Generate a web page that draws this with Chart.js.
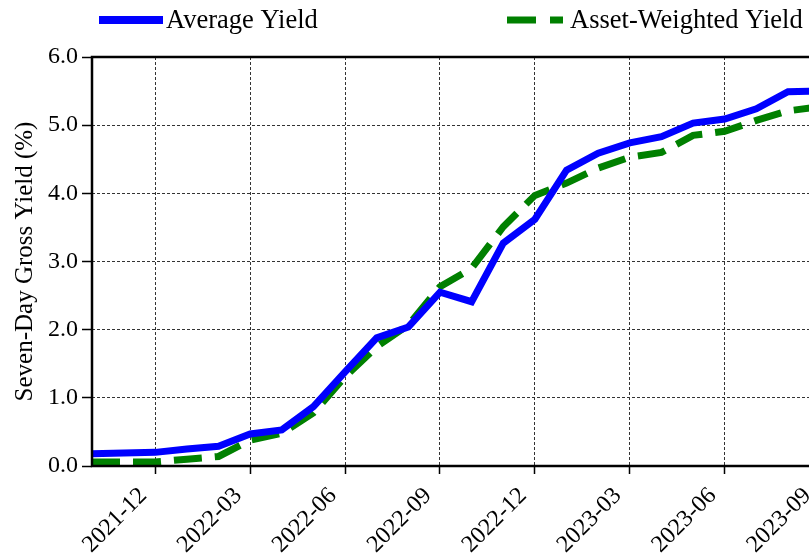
<!DOCTYPE html>
<html>
<head>
<meta charset="utf-8">
<script src="https://cdn.jsdelivr.net/npm/chart.js@4.4.0/dist/chart.umd.min.js"></script>
<style>
  html, body { margin: 0; padding: 0; background: #fff; overflow: hidden; }
  #wrap { width: 848px; height: 560px; }
</style>
</head>
<body>
<div id="wrap"><canvas id="yieldChart"></canvas></div>
<script>
const months = ['2021-10', '2021-11', '2021-12', '2022-01', '2022-02', '2022-03',
  '2022-04', '2022-05', '2022-06', '2022-07', '2022-08', '2022-09',
  '2022-10', '2022-11', '2022-12', '2023-01', '2023-02', '2023-03',
  '2023-04', '2023-05', '2023-06', '2023-07', '2023-08', '2023-09'];
const averageYield = [0.18, 0.19, 0.20, 0.25, 0.29, 0.47, 0.53, 0.87, 1.38, 1.88, 2.04, 2.55,
  2.41, 3.27, 3.62, 4.34, 4.59, 4.74, 4.83, 5.03, 5.09, 5.24, 5.49, 5.50];
const assetWeightedYield = [0.06, 0.06, 0.06, 0.10, 0.14, 0.38, 0.48, 0.78, 1.31, 1.75, 2.07, 2.63,
  2.90, 3.51, 3.97, 4.15, 4.37, 4.53, 4.60, 4.85, 4.91, 5.07, 5.21, 5.27];
const tickMonths = ['2021-12', '2022-03', '2022-06', '2022-09', '2022-12', '2023-03', '2023-06', '2023-09'];
const yTicks = [0, 1, 2, 3, 4, 5, 6];

const FONT = "'Liberation Serif', 'Times New Roman', serif";

// frame around the plot area (all four spines) drawn on top of the lines
const framePlugin = {
    id: 'frame',
    afterDatasetsDraw(chart) {
        const { ctx, chartArea: a } = chart;
        ctx.save();
        ctx.strokeStyle = '#000';
        ctx.lineWidth = 2.5;
        ctx.setLineDash([]);
        ctx.strokeRect(a.left, a.top, a.right - a.left, a.bottom - a.top);
        ctx.restore();
    }
};

// legend laid out like the original: one item left, one item right
const legendPlugin = {
    id: 'splitLegend',
    afterDraw(chart) {
        const { ctx, chartArea: a } = chart;
        const y = 20;
        ctx.save();
        ctx.font = '26.5px ' + FONT;
        ctx.fillStyle = '#000';
        ctx.textBaseline = 'middle';
        ctx.lineCap = 'butt';

        // Average Yield
        ctx.strokeStyle = '#0000ff';
        ctx.lineWidth = 8;
        ctx.beginPath();
        ctx.moveTo(a.left + 7, y);
        ctx.lineTo(a.left + 71, y);
        ctx.stroke();
        ctx.fillText(chart.data.datasets[0].label, a.left + 74, y + 1);

        // Asset-Weighted Yield
        const label2 = chart.data.datasets[1].label;
        const tx = 570;
        ctx.strokeStyle = '#008000';
        ctx.lineWidth = 7;
        ctx.setLineDash([29, 14]);
        ctx.beginPath();
        ctx.moveTo(tx - 63, y);
        ctx.lineTo(tx - 7, y);
        ctx.stroke();
        ctx.setLineDash([]);
        ctx.fillText(label2, tx, y + 1);
        ctx.restore();
    }
};

function initChart() {
    const ctx = document.getElementById('yieldChart').getContext('2d');
    new Chart(ctx, {
        type: 'line',
        data: {
            datasets: [{
                label: 'Average Yield',
                data: averageYield.map((v, i) => ({ x: i, y: v })),
                borderColor: '#0000ff',
                borderWidth: 7,
                pointRadius: 0,
                tension: 0,
                fill: false
            }, {
                label: 'Asset-Weighted Yield',
                data: assetWeightedYield.map((v, i) => ({ x: i, y: v })),
                borderColor: '#008000',
                borderWidth: 7,
                borderDash: [28, 13],
                borderCapStyle: 'butt',
                pointRadius: 0,
                tension: 0,
                fill: false
            }]
        },
        options: {
            responsive: true,
            maintainAspectRatio: false,
            animation: false,
            layout: { padding: { top: 57, right: 15, left: 0, bottom: 0 } },
            plugins: {
                legend: { display: false },
                tooltip: { enabled: false }
            },
            scales: {
                x: {
                    type: 'linear',
                    min: 0,
                    max: months.length - 1,
                    afterBuildTicks: scale => {
                        scale.ticks = tickMonths.map(m => ({ value: months.indexOf(m) }));
                    },
                    afterFit: scale => { scale.height = 94; },
                    ticks: {
                        callback: v => months[v],
                        minRotation: 45,
                        maxRotation: 45,
                        autoSkip: false,
                        color: '#000',
                        padding: 8,
                        labelOffset: -12,
                        font: { family: FONT, size: 24 }
                    },
                    grid: {
                        color: '#333',
                        lineWidth: 1,
                        tickLength: 8,
                        tickColor: '#000',
                        tickWidth: 1.5,
                        tickBorderDash: [1, 0]
                    },
                    border: { display: false, dash: [3, 2] }
                },
                y: {
                    min: 0,
                    max: 6,
                    afterBuildTicks: scale => {
                        scale.ticks = yTicks.map(v => ({ value: v }));
                    },
                    afterFit: scale => { scale.width = 92; },
                    ticks: {
                        callback: v => v.toFixed(1),
                        color: '#000',
                        padding: 4,
                        font: { family: FONT, size: 24 }
                    },
                    title: {
                        display: true,
                        text: 'Seven-Day Gross Yield (%)',
                        color: '#000',
                        padding: { top: 10, bottom: 0 },
                        font: { family: FONT, size: 25 }
                    },
                    grid: {
                        color: '#333',
                        lineWidth: 1,
                        tickLength: 10,
                        tickColor: '#000',
                        tickWidth: 1.5,
                        tickBorderDash: [1, 0]
                    },
                    border: { display: false, dash: [3, 2] }
                }
            }
        },
        plugins: [framePlugin, legendPlugin]
    });
}

initChart();
</script>
</body>
</html>
